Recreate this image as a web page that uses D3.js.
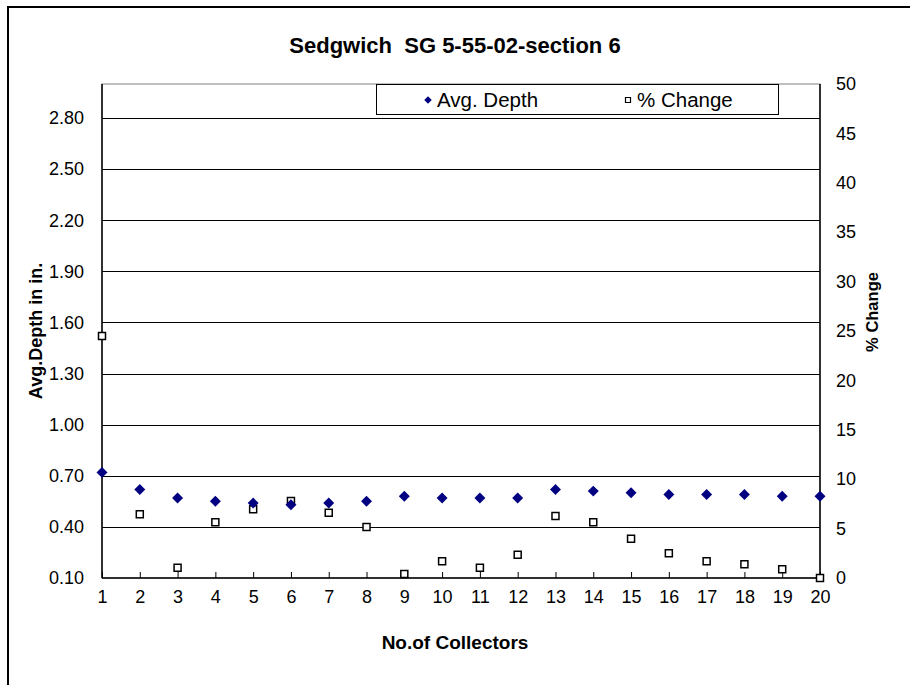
<!DOCTYPE html>
<html><head><meta charset="utf-8">
<script src="https://cdn.jsdelivr.net/npm/d3@7"></script>
<style>body{margin:0;background:#fff;} text{font-family:"Liberation Sans",Arial,sans-serif;white-space:pre;}</style>
</head><body><svg id="c" width="910" height="685"></svg>
<script>
const collectors = [1,2,3,4,5,6,7,8,9,10,11,12,13,14,15,16,17,18,19,20];
const avgDepth = [0.72,0.62,0.57,0.55,0.54,0.53,0.54,0.55,0.58,0.57,0.57,0.57,0.62,0.61,0.60,0.59,0.59,0.59,0.58,0.58];
const pctChange = [24.5,6.45,1.04,5.64,6.95,7.79,6.61,5.16,0.40,1.69,1.04,2.36,6.28,5.64,3.98,2.50,1.69,1.39,0.88,0.0];
const leftTicks = [0.10,0.40,0.70,1.00,1.30,1.60,1.90,2.20,2.50,2.80];
const rightTicks = [0,5,10,15,20,25,30,35,40,45,50];

const svg = d3.select("#c");
const L=102, R=820, T=84, B=578;
const FS = 18;
const x = d3.scaleLinear().domain([1,20]).range([L,R]);
const yL = d3.scaleLinear().domain([0.1,3.0]).range([B,T]);
const yR = d3.scaleLinear().domain([0,50]).range([B,T]);

// outer frame
svg.append("rect").attr("x",8).attr("y",7).attr("width",920).attr("height",700)
  .attr("fill","none").attr("stroke","#000").attr("stroke-width",2);

// title
svg.append("text").attr("x",455).attr("y",53).attr("text-anchor","middle")
  .attr("font-size",22).attr("font-weight","bold").text("Sedgwich  SG 5-55-02-section 6");

// plot area border
svg.append("rect").attr("x",L).attr("y",T).attr("width",R-L).attr("height",B-T)
  .attr("fill","none").attr("stroke","#808080").attr("stroke-width",1);

// gridlines
svg.append("g").selectAll("line").data(leftTicks.filter(d=>d>0.1)).join("line")
  .attr("x1",L).attr("x2",R).attr("y1",d=>Math.round(yL(d))+0.5).attr("y2",d=>Math.round(yL(d))+0.5)
  .attr("stroke","#000").attr("stroke-width",1);

// axes
const gl = svg.append("g").attr("transform",`translate(${L},0)`)
  .call(d3.axisLeft(yL).tickValues(leftTicks).tickFormat(d3.format(".2f")).tickSize(0).tickPadding(18));
const gr = svg.append("g").attr("transform",`translate(${R},0)`)
  .call(d3.axisRight(yR).tickValues(rightTicks).tickFormat(d3.format("d")).tickSize(0).tickPadding(16));
const gb = svg.append("g").attr("transform",`translate(0,${B})`)
  .call(d3.axisBottom(x).tickValues(collectors).tickFormat(d3.format("d")).tickSize(-6).tickPadding(12));
[gl,gr,gb].forEach(g=>{
  g.selectAll(".domain").attr("stroke","#000").attr("stroke-width",1.5);
  g.selectAll(".tick line").attr("stroke","#000");
  g.selectAll("text").attr("font-size",FS).attr("font-family","'Liberation Sans',Arial,sans-serif").attr("fill","#000");
});
gb.selectAll(".domain").attr("d",`M${L},0H${R}`);
gl.selectAll(".domain").attr("d",`M0,${T}V${B}`);
gr.selectAll(".domain").attr("d",`M0,${T}V${B}`);

// axis titles
svg.append("text").attr("transform","translate(42,331) rotate(-90)").attr("text-anchor","middle")
  .attr("font-size",18).attr("font-weight","bold").text("Avg.Depth in in.");
svg.append("text").attr("transform","translate(878,312) rotate(-90)").attr("text-anchor","middle")
  .attr("font-size",16.5).attr("font-weight","bold").text("% Change");
svg.append("text").attr("x",455).attr("y",649).attr("text-anchor","middle")
  .attr("font-size",19).attr("font-weight","bold").text("No.of Collectors");

const diamond = d3.symbol().type(d3.symbolSquare).size(60);
const square = d3.symbol().type(d3.symbolSquare).size(49);

// % change squares
svg.append("g").selectAll("path").data(collectors).join("path")
  .attr("d",square).attr("transform",(d,i)=>`translate(${x(d)},${yR(pctChange[i])})`)
  .attr("fill","#fff").attr("stroke","#000").attr("stroke-width",1.5);
// avg depth diamonds
svg.append("g").selectAll("path").data(collectors).join("path")
  .attr("d",diamond).attr("transform",(d,i)=>`translate(${x(d)},${yL(avgDepth[i])}) rotate(45)`)
  .attr("fill","#000080");

// legend
const lg = svg.append("g");
lg.append("rect").attr("x",376.5).attr("y",84.5).attr("width",402).attr("height",30)
  .attr("fill","#fff").attr("stroke","#000").attr("stroke-width",1);
lg.append("path").attr("d",d3.symbol().type(d3.symbolSquare).size(28)).attr("transform","translate(428,100) rotate(45)").attr("fill","#000080");
lg.append("text").attr("x",437).attr("y",107).attr("font-size",20.5).text("Avg. Depth");
lg.append("path").attr("d",d3.symbol().type(d3.symbolSquare).size(25)).attr("transform","translate(628,100)")
  .attr("fill","#fff").attr("stroke","#000").attr("stroke-width",1.2);
lg.append("text").attr("x",637).attr("y",107).attr("font-size",20.5).text("% Change");
</script></body></html>
